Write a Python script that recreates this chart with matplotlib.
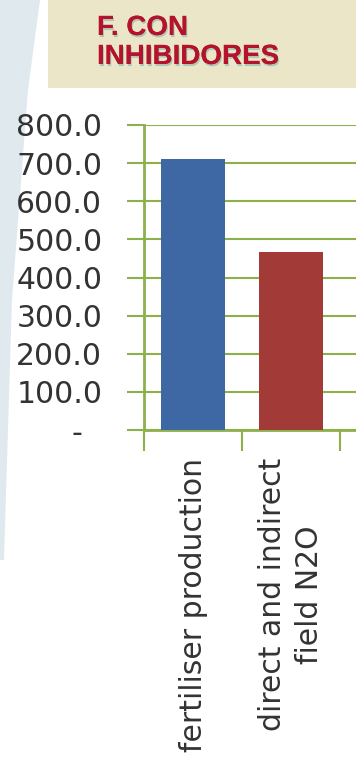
import matplotlib
from matplotlib import pyplot as plt
from matplotlib import patheffects
from matplotlib.patches import Polygon, Rectangle

matplotlib.use("Agg")

# データ
categories = ["fertiliser production", "direct and indirect\nfield N2O"]
values = [712.0, 468.0]
bar_colors = ["#3D68A4", "#A23B37"]
y_ticks = [0, 100, 200, 300, 400, 500, 600, 700, 800]
y_tick_labels = ["-  ", "100.0", "200.0", "300.0", "400.0", "500.0", "600.0", "700.0", "800.0"]
title = "F. CON\nINHIBIDORES"

green = "#8CB04A"

fig = plt.figure(figsize=(3.56, 7.62), dpi=100)

# 背景（左の水色の帯と上のベージュの帯）文字より奥に置く
fig.patches.append(Polygon([(0, 1), (40 / 356, 1), (28 / 356, 1 - 90 / 762),
                            (12 / 356, 1 - 300 / 762), (4 / 356, 1 - 560 / 762),
                            (0, 1 - 560 / 762)],
                           closed=True, transform=fig.transFigure,
                           facecolor="#E0EAEE", edgecolor="none", zorder=-2))
fig.patches.append(Rectangle((48 / 356, 1 - 88 / 762), 1, 88 / 762,
                             transform=fig.transFigure,
                             facecolor="#EAE6C7", edgecolor="none", zorder=-2))

# タイトル
fig.text(97 / 356, 1 - 15 / 762, title, ha="left", va="top",
         fontsize=20, fontweight="bold", color="#B5122B",
         family="Liberation Sans", linespacing=1.15,
         path_effects=[patheffects.withSimplePatchShadow(offset=(0.8, -1.5),
                                                          shadow_rgbFace="#6fa8a8",
                                                          alpha=0.5),
                       patheffects.Normal()])

# グラフ領域（右側は画像の外まで続く）
ax = fig.add_axes([144 / 356, 1 - 430 / 762, 294 / 356, 305 / 762])
x = list(range(len(categories)))
ax.bar(x, values, width=0.65, color=bar_colors, zorder=3)

ax.set_xlim(-0.5, 2.5)
ax.set_ylim(0, 800)

ax.set_yticks(y_ticks)
ax.set_yticklabels(y_tick_labels)
ax.yaxis.grid(True, color=green, linewidth=1.5, zorder=0)

ax.set_xticks(x)
ax.set_xticklabels(categories, rotation=90, ha="center", va="top",
                   multialignment="center", linespacing=1.38)
ax.set_xticks([-0.5, 0.5, 1.5, 2.5], minor=True)

ax.tick_params(axis="y", length=12, width=1.5, color=green, pad=18,
               labelsize=21.5, labelcolor="#333333")
ax.tick_params(axis="x", which="major", length=0, pad=20,
               labelsize=21.5, labelcolor="#333333")
ax.tick_params(axis="x", which="minor", length=15, width=1.5, color=green)

for side in ["top", "right"]:
    ax.spines[side].set_visible(False)
for side in ["left", "bottom"]:
    ax.spines[side].set_color(green)
    ax.spines[side].set_linewidth(2)
ax.set_facecolor("none")

plt.savefig("out.png", dpi=100)
